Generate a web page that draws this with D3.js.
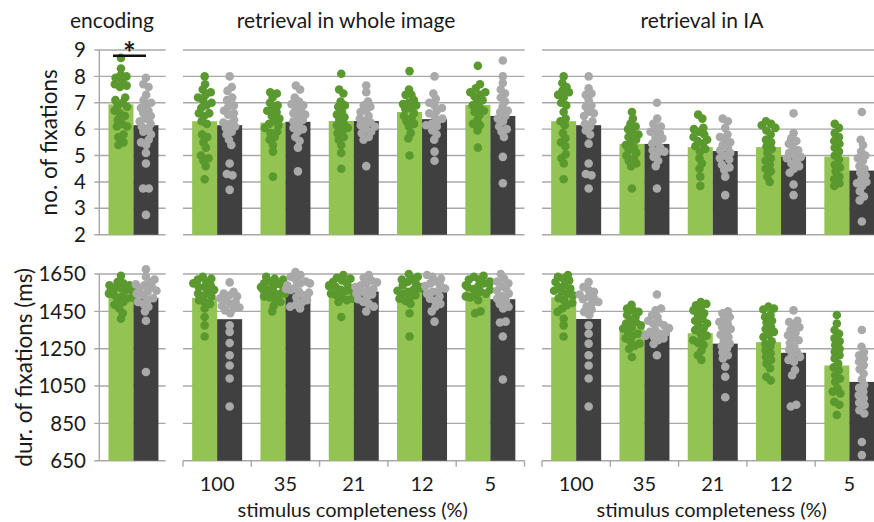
<!DOCTYPE html>
<html>
<head>
<meta charset="utf-8">
<script src="https://cdn.jsdelivr.net/npm/d3@7"></script>
<style>
  body { margin: 0; background: #fff; }
  text { font-family: Lato, 'Open Sans', sans-serif; fill: #1a1a1a; }
</style>
</head>
<body>
<svg id="chart" width="874" height="522"></svg>
<script>
// ---- data -------------------------------------------------------------
var completeness = ['100', '35', '21', '12', '5']
var countTicks = [2, 3, 4, 5, 6, 7, 8, 9]
var durTicks = [650, 850, 1050, 1250, 1450, 1650]

// bar heights, green series / dark series
var countEnc = [6.94, 6.15]
var countWholeGreen = [6.30, 6.25, 6.31, 6.65, 6.92]
var countWholeDark = [6.15, 6.28, 6.31, 6.38, 6.50]
var countIAGreen = [6.30, 5.44, 5.32, 5.32, 4.96]
var countIADark = [6.15, 5.44, 5.17, 4.96, 4.43]

var durEnc = [1538, 1522]
var durWholeGreen = [1523, 1559, 1566, 1559, 1561]
var durWholeDark = [1408, 1552, 1556, 1559, 1515]
var durIAGreen = [1525, 1365, 1333, 1285, 1160]
var durIADark = [1409, 1345, 1277, 1228, 1072]

// individual participants
var countEncGreenDots = [[8.7, 8.3, 8.05, 8.0, 7.95, 7.8, 7.7, 7.65, 7.6, 7.2, 7.1, 7.0, 6.9, 6.85, 6.7, 6.6, 6.5, 6.35, 6.2, 6.1, 6.1, 5.8, 5.7, 5.5, 5.4]]
var countEncDarkDots = [[7.95, 7.7, 7.6, 7.3, 7.1, 7.0, 6.9, 6.8, 6.7, 6.6, 6.5, 6.4, 6.3, 6.2, 6.1, 6.0, 5.9, 5.8, 5.6, 5.5, 5.4, 5.1, 4.7, 3.75, 3.75, 2.75]]

var countWholeGreenDots = [
  [8.0, 7.7, 7.5, 7.4, 7.3, 7.2, 7.1, 7.0, 6.9, 6.8, 6.6, 6.6, 6.5, 6.3, 6.2, 5.8, 5.7, 5.5, 5.3, 5.0, 4.9, 4.8, 4.6, 4.1],
  [7.4, 7.35, 7.2, 7.0, 6.9, 6.8, 6.7, 6.65, 6.5, 6.4, 6.3, 6.2, 6.15, 6.05, 5.9, 5.85, 5.7, 5.6, 5.4, 5.15, 4.2],
  [8.1, 7.5, 7.35, 7.05, 6.9, 6.85, 6.65, 6.55, 6.45, 6.35, 6.2, 6.15, 6.05, 5.95, 5.85, 5.7, 5.6, 5.4, 5.1, 4.5],
  [8.2, 7.5, 7.3, 7.3, 7.1, 7.0, 6.95, 6.9, 6.8, 6.75, 6.6, 6.5, 6.4, 6.3, 6.2, 6.1, 5.85, 5.65, 5.0],
  [8.4, 7.7, 7.55, 7.4, 7.4, 7.3, 7.25, 7.1, 7.05, 6.9, 6.85, 6.7, 6.65, 6.55, 6.35, 6.2, 6.15, 5.95, 5.3]
]
var countWholeDarkDots = [
  [8.0, 7.6, 7.45, 7.2, 7.1, 6.9, 6.85, 6.7, 6.6, 6.55, 6.35, 6.25, 6.2, 6.1, 6.05, 5.9, 5.8, 5.6, 5.4, 4.7, 4.3, 4.25, 3.7],
  [7.65, 7.5, 7.2, 7.05, 6.95, 6.9, 6.8, 6.7, 6.6, 6.55, 6.45, 6.35, 6.3, 6.15, 6.05, 6.0, 5.9, 5.7, 5.55, 5.3, 4.4],
  [7.65, 7.4, 7.05, 6.9, 6.85, 6.7, 6.65, 6.5, 6.4, 6.3, 6.25, 6.15, 6.1, 6.0, 5.9, 5.85, 5.7, 5.6, 4.6],
  [8.0, 7.35, 7.15, 7.0, 6.9, 6.8, 6.7, 6.6, 6.5, 6.4, 6.3, 6.2, 6.15, 6.1, 5.95, 5.8, 5.6, 5.15, 4.8],
  [8.6, 8.0, 7.75, 7.5, 7.35, 7.2, 7.05, 6.85, 6.7, 6.65, 6.5, 6.4, 6.3, 6.1, 6.0, 5.9, 5.7, 4.95, 3.95]
]
var countIAGreenDots = [
  [8.0, 7.75, 7.6, 7.45, 7.4, 7.3, 7.2, 7.0, 6.9, 6.65, 6.4, 6.3, 6.15, 5.85, 5.65, 5.5, 5.35, 5.05, 4.9, 4.7, 4.1],
  [6.65, 6.4, 6.2, 6.1, 6.0, 5.85, 5.8, 5.7, 5.6, 5.5, 5.4, 5.3, 5.2, 5.1, 5.0, 4.9, 4.8, 4.7, 4.6, 3.75],
  [6.55, 6.4, 6.05, 6.0, 5.9, 5.8, 5.7, 5.6, 5.55, 5.45, 5.35, 5.25, 5.15, 4.9, 4.7, 4.5, 4.2, 3.85],
  [6.3, 6.2, 6.15, 6.05, 5.95, 5.8, 5.6, 5.5, 5.35, 5.25, 5.1, 4.9, 4.8, 4.65, 4.5, 4.4, 4.2, 4.0],
  [6.2, 6.05, 5.85, 5.7, 5.55, 5.45, 5.3, 5.15, 5.0, 4.85, 4.65, 4.55, 4.4, 4.2, 4.1, 3.95, 3.85]
]
var countIADarkDots = [
  [8.0, 7.55, 7.35, 7.3, 7.1, 6.9, 6.85, 6.65, 6.6, 6.5, 6.3, 6.2, 6.1, 5.95, 5.8, 5.45, 4.7, 4.3, 4.25, 3.75],
  [7.0, 6.4, 6.2, 6.1, 6.0, 5.9, 5.85, 5.7, 5.65, 5.5, 5.45, 5.3, 5.2, 5.15, 5.1, 4.95, 4.8, 4.6, 3.75],
  [6.4, 6.3, 6.05, 5.8, 5.7, 5.6, 5.5, 5.4, 5.3, 5.2, 5.1, 5.0, 4.9, 4.85, 4.65, 4.55, 4.45, 4.2, 3.5],
  [6.6, 5.85, 5.65, 5.55, 5.45, 5.3, 5.2, 5.1, 5.0, 4.95, 4.9, 4.8, 4.7, 4.6, 4.5, 4.35, 3.9, 3.5],
  [6.65, 5.6, 5.4, 5.15, 5.0, 4.9, 4.8, 4.6, 4.5, 4.35, 4.25, 4.1, 4.0, 3.95, 3.85, 3.65, 3.45, 3.3, 2.5]
]

var durEncGreenDots = [[1640, 1607, 1600, 1590, 1590, 1580, 1575, 1572, 1565, 1560, 1555, 1545, 1536, 1530, 1525, 1520, 1510, 1500, 1485, 1465, 1440, 1410]]
var durEncDarkDots = [[1675, 1635, 1620, 1607, 1595, 1590, 1580, 1572, 1560, 1555, 1545, 1536, 1520, 1510, 1500, 1490, 1475, 1450, 1400, 1125]]

var durWholeGreenDots = [
  [1635, 1625, 1620, 1610, 1600, 1590, 1580, 1580, 1565, 1555, 1545, 1535, 1530, 1510, 1500, 1490, 1465, 1420, 1375, 1315],
  [1635, 1625, 1620, 1610, 1600, 1595, 1590, 1580, 1570, 1565, 1560, 1555, 1545, 1540, 1530, 1525, 1515, 1500, 1480, 1450],
  [1645, 1630, 1625, 1615, 1607, 1600, 1590, 1585, 1580, 1572, 1565, 1560, 1555, 1545, 1536, 1525, 1518, 1510, 1500, 1420],
  [1650, 1635, 1625, 1620, 1607, 1600, 1590, 1580, 1572, 1565, 1560, 1555, 1545, 1536, 1525, 1518, 1505, 1490, 1440, 1315],
  [1640, 1635, 1620, 1620, 1610, 1600, 1600, 1590, 1585, 1580, 1570, 1565, 1555, 1545, 1540, 1530, 1525, 1510, 1450, 1440]
]
var durWholeDarkDots = [
  [1605, 1555, 1545, 1535, 1530, 1520, 1510, 1500, 1490, 1480, 1470, 1465, 1455, 1440, 1375, 1340, 1280, 1215, 1160, 1090, 940],
  [1660, 1645, 1635, 1620, 1610, 1600, 1600, 1590, 1580, 1570, 1565, 1555, 1550, 1536, 1525, 1510, 1495, 1485, 1475, 1465],
  [1645, 1630, 1615, 1605, 1600, 1590, 1580, 1570, 1560, 1555, 1545, 1540, 1525, 1515, 1500, 1490, 1475, 1450],
  [1645, 1635, 1625, 1610, 1600, 1590, 1585, 1572, 1560, 1555, 1545, 1530, 1518, 1505, 1490, 1475, 1450, 1395],
  [1650, 1625, 1610, 1600, 1585, 1572, 1560, 1545, 1530, 1518, 1505, 1490, 1475, 1465, 1395, 1390, 1315, 1085]
]
var durIAGreenDots = [
  [1645, 1635, 1625, 1615, 1607, 1590, 1580, 1572, 1560, 1555, 1545, 1536, 1520, 1510, 1495, 1483, 1465, 1447, 1410, 1375, 1315],
  [1485, 1465, 1455, 1447, 1430, 1420, 1405, 1393, 1385, 1375, 1365, 1358, 1340, 1330, 1320, 1305, 1290, 1277, 1265, 1250, 1205],
  [1500, 1490, 1483, 1465, 1455, 1440, 1430, 1410, 1400, 1385, 1375, 1360, 1350, 1335, 1320, 1305, 1295, 1280, 1270, 1240, 1215, 1190],
  [1475, 1465, 1460, 1430, 1420, 1400, 1390, 1367, 1355, 1340, 1325, 1313, 1290, 1277, 1260, 1241, 1225, 1206, 1190, 1170, 1145, 1100, 1080],
  [1430, 1385, 1350, 1330, 1305, 1290, 1270, 1250, 1233, 1215, 1198, 1170, 1150, 1135, 1108, 1090, 1072, 1037, 1020, 1010, 965, 950, 895]
]
var durIADarkDots = [
  [1607, 1580, 1565, 1555, 1540, 1528, 1520, 1515, 1500, 1490, 1475, 1460, 1447, 1430, 1375, 1330, 1277, 1215, 1160, 1090, 940],
  [1540, 1465, 1455, 1430, 1420, 1400, 1390, 1385, 1375, 1360, 1350, 1340, 1335, 1330, 1320, 1315, 1305, 1295, 1275, 1215],
  [1450, 1440, 1420, 1410, 1393, 1385, 1365, 1355, 1340, 1325, 1313, 1295, 1277, 1265, 1250, 1230, 1215, 1198, 1153, 1100, 990],
  [1455, 1400, 1393, 1375, 1365, 1350, 1335, 1322, 1305, 1295, 1280, 1260, 1245, 1232, 1215, 1206, 1190, 1180, 1135, 1108, 950, 940],
  [1350, 1260, 1232, 1215, 1197, 1180, 1162, 1140, 1117, 1085, 1055, 1040, 1019, 1000, 984, 960, 948, 920, 903, 750, 680]
]

// ---- layout -------------------------------------------------------------
var svg = d3.select('#chart')
var step = 68.3
var col = {greenBar: '#92c353', darkBar: '#404040', greenDot: '#5a992e', greyDot: '#a9a9a9', grid: '#a8a8a8'}

var rows = [
  {
    y: d3.scaleLinear().domain([2, 9]).range([234.7, 50]),
    ticks: countTicks,
    label: 'no. of fixations', labelX: 57,
    panels: [
      {x0: 99.3, cats: ['enc'], green: [countEnc[0]], dark: [countEnc[1]], gDots: countEncGreenDots, dDots: countEncDarkDots},
      {x0: 183, cats: completeness, green: countWholeGreen, dark: countWholeDark, gDots: countWholeGreenDots, dDots: countWholeDarkDots},
      {x0: 542, cats: completeness, green: countIAGreen, dark: countIADark, gDots: countIAGreenDots, dDots: countIADarkDots}
    ]
  },
  {
    y: d3.scaleLinear().domain([650, 1650]).range([460.7, 274]),
    ticks: durTicks,
    label: 'dur. of fixations (ms)', labelX: 32,
    bottom: true,
    panels: [
      {x0: 99.3, cats: ['enc'], green: [durEnc[0]], dark: [durEnc[1]], gDots: durEncGreenDots, dDots: durEncDarkDots},
      {x0: 183, cats: completeness, green: durWholeGreen, dark: durWholeDark, gDots: durWholeGreenDots, dDots: durWholeDarkDots},
      {x0: 542, cats: completeness, green: durIAGreen, dark: durIADark, gDots: durIAGreenDots, dDots: durIADarkDots}
    ]
  }
]

function swarm(vals, cx, y){
  var nodes = vals.map(v => ({v: v, x: cx, y: y(v), fy: y(v)}))
  d3.forceSimulation(nodes)
    .force('x', d3.forceX(cx).strength(0.09))
    .force('collide', d3.forceCollide(2.9))
    .stop()
    .tick(250)
  nodes.forEach(d => d.x = Math.max(cx - 12, Math.min(cx + 12, d.x)))
  return nodes
}

rows.forEach(row => {
  var y = row.y
  var y0 = y.range()[0]

  row.panels.forEach((p, pi) => {
    var x1 = p.x0 + p.cats.length*step
    var x = d3.scaleBand().domain(p.cats).range([p.x0, x1]).paddingInner(0.268).paddingOuter(0.134)
    var sub = d3.scaleBand().domain(['green', 'dark']).range([0, x.bandwidth()])

    var g = svg.append('g')

    // gridlines
    g.selectAll('line.grid').data(row.ticks).join('line')
      .attr('x1', pi == 0 ? p.x0 - 5 : p.x0)
      .attr('x2', pi == 0 ? x1 - 2 : x1)
      .attr('y1', d => y(d)).attr('y2', d => y(d))
      .attr('stroke', col.grid).attr('stroke-width', 1.4)

    // bars
    var grp = g.selectAll('g.grp').data(p.cats).join('g')
      .attr('transform', d => `translate(${x(d)},0)`)

    grp.append('rect')
      .attr('x', sub('green')).attr('width', sub.bandwidth())
      .attr('y', (d, i) => y(p.green[i])).attr('height', (d, i) => y0 - y(p.green[i]))
      .attr('fill', col.greenBar)
    grp.append('rect')
      .attr('x', sub('dark')).attr('width', sub.bandwidth())
      .attr('y', (d, i) => y(p.dark[i])).attr('height', (d, i) => y0 - y(p.dark[i]))
      .attr('fill', col.darkBar)

    // participants
    p.cats.forEach((c, i) => {
      var cg = x(c) + sub('green') + sub.bandwidth()/2
      var cd = x(c) + sub('dark') + sub.bandwidth()/2
      g.append('g').selectAll('circle').data(swarm(p.gDots[i], cg, y)).join('circle')
        .attr('cx', d => d.x).attr('cy', d => d.y).attr('r', 4.3).attr('fill', col.greenDot)
      g.append('g').selectAll('circle').data(swarm(p.dDots[i], cd, y)).join('circle')
        .attr('cx', d => d.x).attr('cy', d => d.y).attr('r', 4.3).attr('fill', col.greyDot)
    })

    if (pi == 0){
      g.append('line')
        .attr('x1', p.x0).attr('x2', p.x0).attr('y1', y.range()[1]).attr('y2', y0)
        .attr('stroke', col.grid).attr('stroke-width', 1.4)
      g.selectAll('text.tick').data(row.ticks).join('text')
        .attr('x', 86).attr('y', d => y(d)).attr('dy', '0.35em')
        .attr('text-anchor', 'end').style('font-size', '20.5px')
        .text(d => d)
    } else if (row.bottom){
      var bounds = d3.range(p.cats.length + 1).map(i => p.x0 + i*step)
      g.selectAll('line.xt').data(bounds).join('line')
        .attr('x1', d => d).attr('x2', d => d).attr('y1', y0).attr('y2', y0 + 6)
        .attr('stroke', col.grid).attr('stroke-width', 1.4)
      g.selectAll('text.xl').data(p.cats).join('text')
        .attr('x', d => x(d) + x.bandwidth()/2).attr('y', 491)
        .attr('text-anchor', 'middle').style('font-size', '20px')
        .text(d => d)
      g.append('text')
        .attr('x', (p.x0 + x1)/2 - 1).attr('y', 517)
        .attr('text-anchor', 'middle').style('font-size', '20px')
        .text('stimulus completeness (%)')
    }
  })

  svg.append('text')
    .attr('transform', `translate(${row.labelX},${(y.range()[0] + y.range()[1])/2}) rotate(-90)`)
    .attr('text-anchor', 'middle').style('font-size', '22.5px')
    .text(row.label)
})

// titles
svg.append('text').attr('x', 112).attr('y', 28).attr('text-anchor', 'middle').style('font-size', '21px').text('encoding')
svg.append('text').attr('x', 346).attr('y', 28).attr('text-anchor', 'middle').style('font-size', '21px').text('retrieval in whole image')
svg.append('text').attr('x', 702).attr('y', 28).attr('text-anchor', 'middle').style('font-size', '21px').text('retrieval in IA')

// significance marker
svg.append('line').attr('x1', 113).attr('x2', 146).attr('y1', 55.7).attr('y2', 55.7)
  .attr('stroke', '#111').attr('stroke-width', 2.4)
svg.append('text').attr('x', 129.5).attr('y', 64).attr('text-anchor', 'middle')
  .style('font-size', '30px').style('font-weight', 'bold').text('*')
</script>
</body>
</html>
